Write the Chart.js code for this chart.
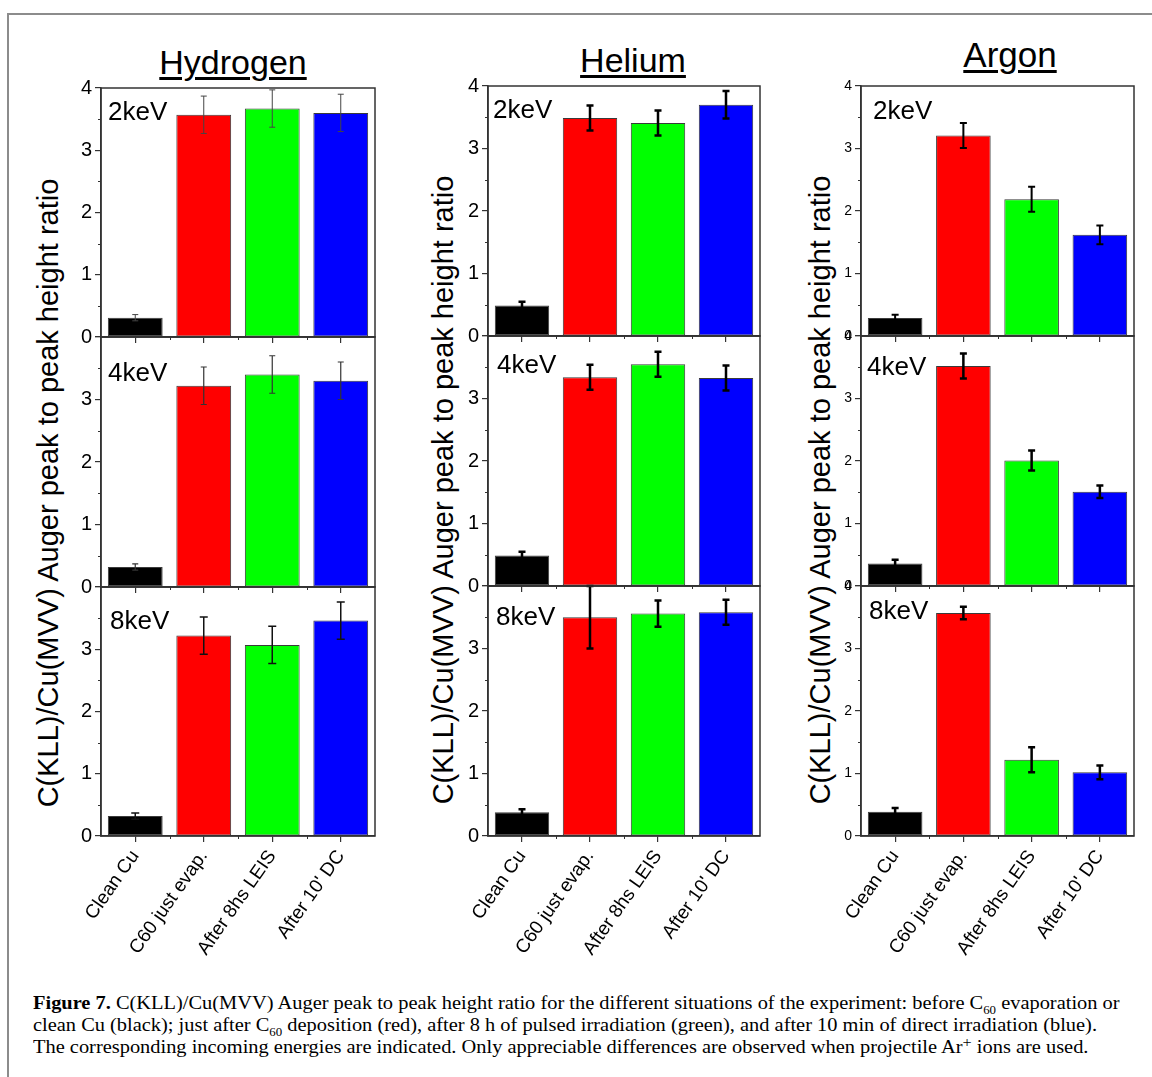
<!DOCTYPE html>
<html>
<head>
<meta charset="utf-8">
<script src="https://cdn.jsdelivr.net/npm/chart.js@4/dist/chart.umd.min.js"></script>
<style>
html,body{margin:0;padding:0;background:#fff;}
body{width:1152px;height:1077px;position:relative;overflow:hidden;font-family:"Liberation Sans",Arial,sans-serif;color:#000;}
#frame{position:absolute;left:7px;top:13px;width:1200px;height:1200px;border-top:2px solid #8c8c8c;border-left:2px solid #8c8c8c;}
canvas{position:absolute;}
.title{position:absolute;white-space:nowrap;line-height:1;transform:translateX(-50%);text-decoration:underline;text-decoration-thickness:2.5px;text-underline-offset:3px;}
.ytitle{position:absolute;white-space:nowrap;line-height:1;font-size:29px;transform:translate(-50%,-50%) rotate(-90deg);}
#caption{position:absolute;left:33px;top:992px;font-family:"Liberation Serif","Times New Roman",serif;font-size:19px;line-height:22px;white-space:nowrap;color:#000;transform:scaleX(1.074);transform-origin:0 0;}
#caption sub{font-size:12px;line-height:0;}
#caption sup{font-size:15px;line-height:0;vertical-align:6px;}
</style>
</head>
<body>
<div id="frame"></div>
<div id="caption"><b>Figure 7.</b> C(KLL)/Cu(MVV) Auger peak to peak height ratio for the different situations of the experiment: before C<sub>60</sub> evaporation or<br>clean Cu (black); just after C<sub>60</sub> deposition (red), after 8&nbsp;h of pulsed irradiation (green), and after 10&nbsp;min of direct irradiation (blue).<br>The corresponding incoming energies are indicated. Only appreciable differences are observed when projectile Ar<sup>+</sup> ions are used.</div>
<script>
// ---------------- data ----------------
const categories = ['Clean Cu', 'C60 just evap.', 'After 8hs LEIS', "After 10' DC"];
const gases = ['Hydrogen', 'Helium', 'Argon'];
const energies = ['2keV', '4keV', '8keV'];
const yTickValues = [0, 1, 2, 3, 4];
const yAxisTitle = 'C(KLL)/Cu(MVV) Auger peak to peak height ratio';

const hydrogen2keV = [0.31, 3.57, 3.67, 3.60];
const hydrogen2keVErr = [0.05, 0.30, 0.30, 0.30];
const hydrogen4keV = [0.32, 3.22, 3.40, 3.30];
const hydrogen4keVErr = [0.05, 0.30, 0.30, 0.30];
const hydrogen8keV = [0.32, 3.22, 3.07, 3.46];
const hydrogen8keVErr = [0.05, 0.30, 0.30, 0.30];

const helium2keV = [0.49, 3.49, 3.41, 3.70];
const helium2keVErr = [0.06, 0.20, 0.20, 0.22];
const helium4keV = [0.49, 3.34, 3.55, 3.33];
const helium4keVErr = [0.06, 0.20, 0.20, 0.20];
const helium8keV = [0.38, 3.50, 3.56, 3.58];
const helium8keVErr = [0.05, 0.50, 0.21, 0.20];

const argon2keV = [0.29, 3.21, 2.19, 1.62];
const argon2keVErr = [0.05, 0.20, 0.20, 0.15];
const argon4keV = [0.36, 3.52, 2.01, 1.51];
const argon4keVErr = [0.06, 0.20, 0.16, 0.10];
const argon8keV = [0.39, 3.57, 1.22, 1.02];
const argon8keVErr = [0.06, 0.10, 0.20, 0.11];

const seriesByGas = [
  [[hydrogen2keV, hydrogen2keVErr], [hydrogen4keV, hydrogen4keVErr], [hydrogen8keV, hydrogen8keVErr]],
  [[helium2keV, helium2keVErr], [helium4keV, helium4keVErr], [helium8keV, helium8keVErr]],
  [[argon2keV, argon2keVErr], [argon4keV, argon4keVErr], [argon8keV, argon8keVErr]]
];

// ---------------- styles / layout ----------------
const FONT = "'Liberation Sans', Arial, Helvetica, sans-serif";
const barColors = ['#000000', '#ff0000', '#00ff00', '#0000ff'];
const axisColor = '#333333';

const layoutCols = [
  {left:101, right:375, tops:[88,337,587], bottom:836, tickFont:20, showTopLabel:false,
   titleX:233, titleBase:74, titleSize:34, yTitleX:48, yTitleY:493,
   err:[{w:1,c:'#444',cap:3},{w:1.2,c:'#333',cap:3},{w:1.5,c:'#111',cap:4}],
   lab:[[7,32],[7,44],[9,42]]},
  {left:488, right:760, tops:[86,336,586], bottom:836, tickFont:20, showTopLabel:false,
   titleX:633, titleBase:72, titleSize:34, yTitleX:443, yTitleY:490,
   err:[{w:2.5,c:'#000',cap:3.5},{w:2.5,c:'#000',cap:3.5},{w:2.5,c:'#000',cap:3.5}],
   lab:[[5,32],[9,37],[8,39]]},
  {left:861, right:1134, tops:[86,336,586], bottom:836, tickFont:14, showTopLabel:true,
   titleX:1010, titleBase:67, titleSize:35, yTitleX:820, yTitleY:490,
   err:[{w:2,c:'#000',cap:3.5},{w:2.5,c:'#000',cap:3.5},{w:2.5,c:'#000',cap:3.5}],
   lab:[[12,33],[6,39],[8,33]]}
];
const PT = 16, PR = 4, YW = 46;

const decorPlugin = {
  id: 'decor',
  afterDatasetsDraw(chart, args, o) {
    const ctx = chart.ctx, a = chart.chartArea, xs = chart.scales.x, ys = chart.scales.y;
    const meta = chart.getDatasetMeta(0);
    ctx.save();
    // error bars
    ctx.strokeStyle = o.err.c; ctx.lineWidth = o.err.w; ctx.lineCap = 'butt';
    o.values.forEach((v, i) => {
      const e = o.errors[i], px = meta.data[i].x;
      const y1 = ys.getPixelForValue(v + e), y2 = ys.getPixelForValue(v - e);
      ctx.beginPath();
      ctx.moveTo(px, y1); ctx.lineTo(px, y2);
      ctx.moveTo(px - o.err.cap, y1); ctx.lineTo(px + o.err.cap, y1);
      ctx.moveTo(px - o.err.cap, y2); ctx.lineTo(px + o.err.cap, y2);
      ctx.stroke();
    });
    // frame
    ctx.strokeStyle = axisColor; ctx.lineWidth = 1.5;
    ctx.strokeRect(a.left, a.top, a.right - a.left, a.bottom - a.top);
    // minor ticks
    ctx.lineWidth = 1;
    ctx.beginPath();
    for (let v = 0.5; v < 4; v += 1) {
      const py = Math.round(ys.getPixelForValue(v)) + 0.5;
      ctx.moveTo(a.left - 3, py); ctx.lineTo(a.left, py);
    }
    for (let i = 1; i < categories.length; i++) {
      const px = Math.round((xs.getPixelForValue(i - 1) + xs.getPixelForValue(i)) / 2) + 0.5;
      ctx.moveTo(px, a.bottom); ctx.lineTo(px, a.bottom + 3);
    }
    ctx.stroke();
    // energy label
    ctx.fillStyle = '#000';
    ctx.font = '26px ' + FONT;
    ctx.textBaseline = 'alphabetic'; ctx.textAlign = 'left';
    ctx.fillText(o.label, a.left + o.dx, a.top + o.dy);
    ctx.restore();
  }
};

function makePanel(ci, row) {
  const col = layoutCols[ci];
  const [values, errors] = seriesByGas[ci][row];
  const top = col.tops[row];
  const bottom = row < 2 ? col.tops[row + 1] : col.bottom;
  const plotW = col.right - col.left, plotH = bottom - top;
  const isBottom = row === 2;
  const XH = isBottom ? 150 : 16;
  const W = YW + plotW + PR, H = PT + plotH + XH;
  const cv = document.createElement('canvas');
  cv.width = W; cv.height = H;
  cv.style.left = (col.left - YW) + 'px';
  cv.style.top = (top - PT) + 'px';
  cv.style.width = W + 'px'; cv.style.height = H + 'px';
  document.body.appendChild(cv);
  const showMax = row === 0 || col.showTopLabel;
  new Chart(cv, {
    type: 'bar',
    data: {
      labels: categories,
      datasets: [{
        data: values,
        backgroundColor: barColors,
        borderColor: '#3a3a3a',
        borderWidth: 1,
        borderSkipped: false,
        barPercentage: 0.8,
        categoryPercentage: 1.0
      }]
    },
    options: {
      responsive: false,
      animation: false,
      devicePixelRatio: 1,
      events: [],
      layout: {padding: {top: PT, right: PR, left: 0, bottom: 0}},
      plugins: {
        legend: {display: false},
        tooltip: {enabled: false},
        decor: {values: values, errors: errors, err: col.err[row], label: energies[row], dx: col.lab[row][0], dy: col.lab[row][1]}
      },
      scales: {
        x: {
          type: 'category',
          offset: true,
          grid: {display: true, drawOnChartArea: false, drawTicks: true, tickLength: 6, offset: false, color: axisColor, lineWidth: 1.2},
          border: {display: true, color: axisColor, width: 1.5},
          ticks: {display: isBottom, autoSkip: false, minRotation: 55, maxRotation: 55, padding: 4, color: '#000', font: {family: FONT, size: 19}},
          afterFit: (s) => { s.height = XH; }
        },
        y: {
          min: 0, max: 4,
          afterBuildTicks: (s) => { s.ticks = yTickValues.map(v => ({value: v})); },
          grid: {display: true, drawOnChartArea: false, drawTicks: true, tickLength: 6, color: axisColor, lineWidth: 1.2},
          border: {display: true, color: axisColor, width: 1.5},
          ticks: {padding: 3, color: '#000', font: {family: FONT, size: col.tickFont},
                  callback: (v) => (v === 4 && !showMax) ? '' : String(v)},
          afterFit: (s) => { s.width = YW; }
        }
      }
    },
    plugins: [decorPlugin]
  });
}

layoutCols.forEach((col, ci) => {
  const t = document.createElement('div');
  t.className = 'title';
  t.textContent = gases[ci];
  t.style.fontSize = col.titleSize + 'px';
  t.style.left = col.titleX + 'px';
  t.style.top = (col.titleBase - 0.8465 * col.titleSize) + 'px';
  document.body.appendChild(t);
  const yt = document.createElement('div');
  yt.className = 'ytitle';
  yt.textContent = yAxisTitle;
  yt.style.left = col.yTitleX + 'px';
  yt.style.top = col.yTitleY + 'px';
  document.body.appendChild(yt);
  for (let r = 0; r < 3; r++) makePanel(ci, r);
});
</script>
</body>
</html>
